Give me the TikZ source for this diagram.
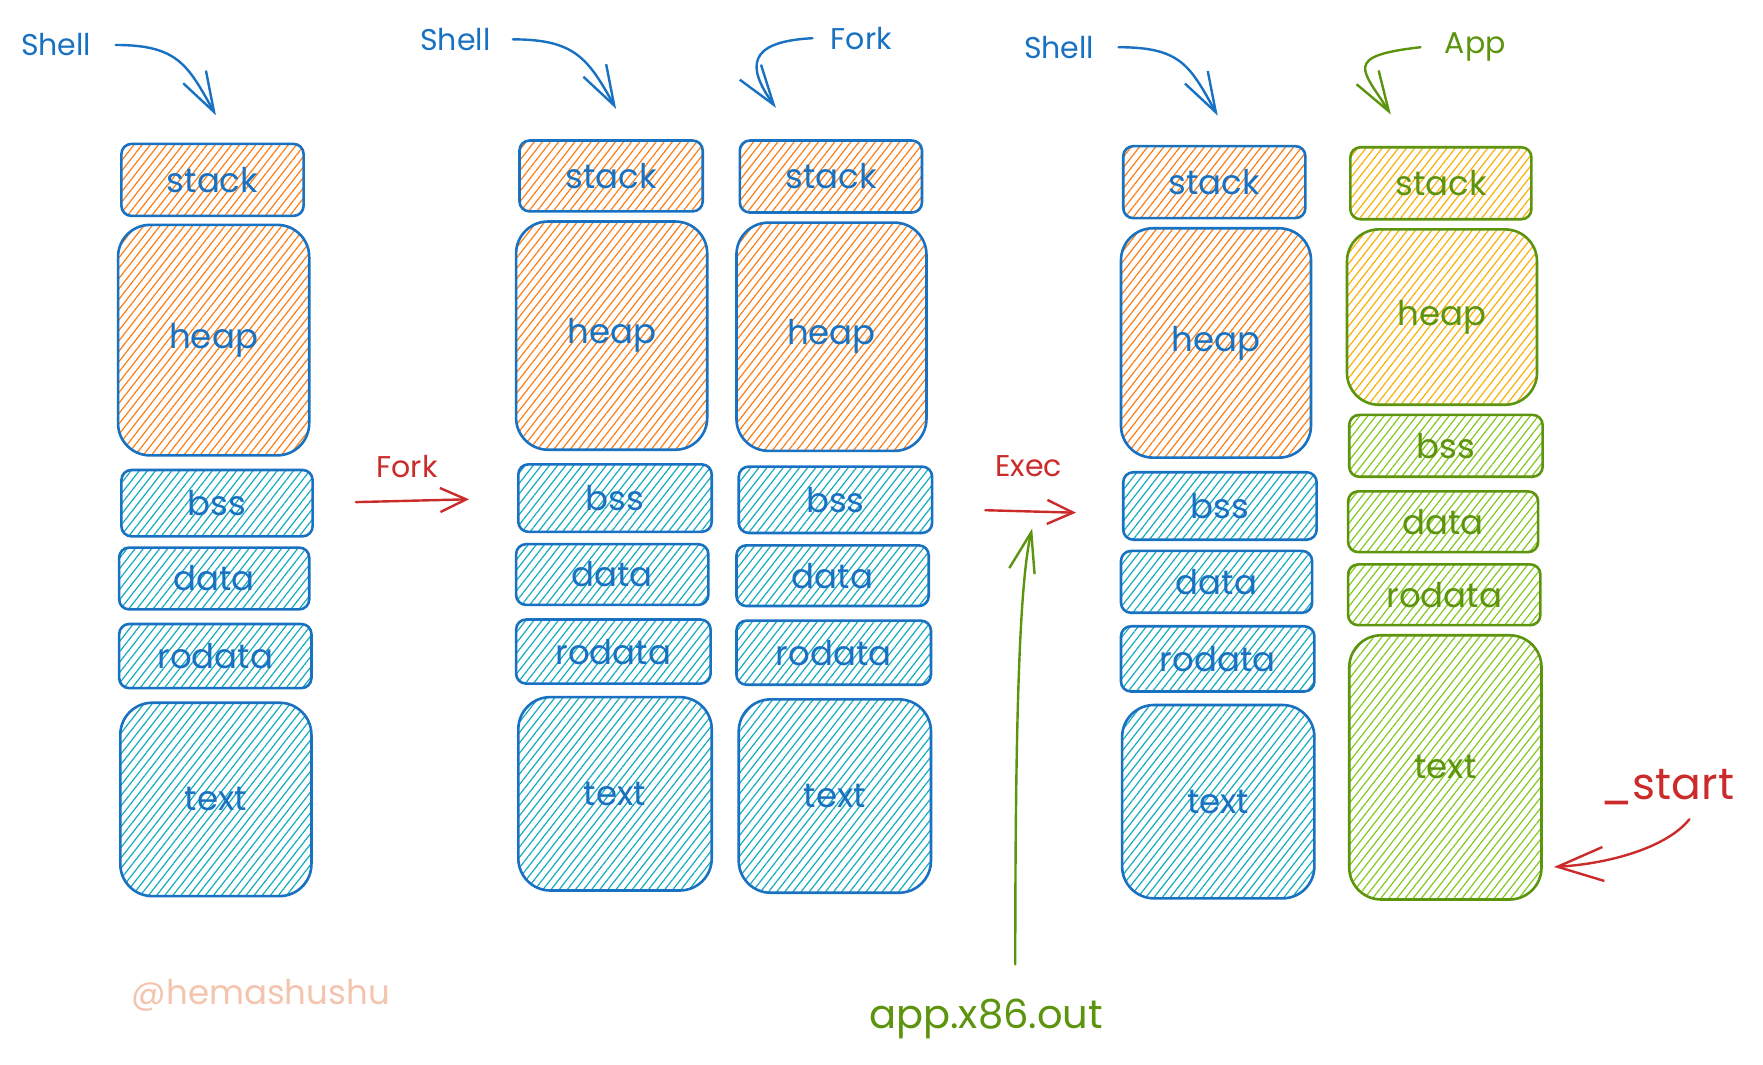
\documentclass[tikz,border=0pt]{standalone}
\usepackage{fontspec}
\setmainfont{Poppins}
\usetikzlibrary{patterns.meta,arrows.meta}
\definecolor{sblue}{HTML}{1971C2}
\definecolor{horange}{HTML}{FD7E14}
\definecolor{hcyan}{HTML}{15AABF}
\definecolor{sgreen}{HTML}{5C940D}
\definecolor{hgreen}{HTML}{82C91E}
\definecolor{hyellow}{HTML}{FAB005}
\definecolor{sred}{HTML}{CC2B2B}
\definecolor{wmark}{HTML}{F3C4AE}
\newcommand\U{0.5622pt}
\newcommand\mseg[7]{\node[#6,minimum width={(#4-#2)*\U},minimum height={(#5-#3)*\U}] (#1) at ({(#2+#4)/2},{(#3+#5)/2}) {#7};}
\tikzset{
  seg/.style={draw=sblue,line width=1.3pt,inner sep=0pt,text=sblue,font=\fontsize{17}{20}\selectfont,rounded corners=5pt},
  gseg/.style={seg,draw=sgreen,text=sgreen},
  big/.style={rounded corners=16pt},
  hatchlines/.style={pattern={Lines[angle=52,distance=3.2pt,line width=0.6pt]}},
  ohatch/.style={hatchlines,pattern color=horange},
  chatch/.style={hatchlines,pattern color=hcyan},
  yhatch/.style={hatchlines,pattern color=hyellow},
  ghatch/.style={hatchlines,pattern color=hgreen},
  lab/.style={font=\fontsize{15}{18}\selectfont,inner sep=1pt},
  barr/.style={line width=1.2pt,line cap=round,-{Straight Barb[length=20pt,width=13pt,line width=1.2pt]}},
  sarr/.style={line width=1.2pt,line cap=round,-{Straight Barb[length=13pt,width=12pt,line width=1.2pt]}},
}
\begin{document}
\begin{tikzpicture}[x=0.5622pt,y=-0.5622pt]
\useasboundingbox[fill=white] (0,0) rectangle (1568,947);
% column 1
\mseg{s1}{108}{128}{270}{192}{seg,ohatch}{stack}
\mseg{h1}{105}{200}{275}{405}{seg,big,ohatch}{heap}
\mseg{b1}{108}{418}{278}{477}{seg,chatch}{bss}
\mseg{d1}{106}{487}{275}{542}{seg,chatch}{data}
\mseg{r1}{106}{555}{277}{612}{seg,chatch}{rodata}
\mseg{t1}{107}{625}{277}{797}{seg,big,chatch}{text}
% column 2
\mseg{s2}{462}{125}{625}{188}{seg,ohatch}{stack}
\mseg{h2}{459}{197}{629}{400}{seg,big,ohatch}{heap}
\mseg{b2}{461}{413}{633}{473}{seg,chatch}{bss}
\mseg{d2}{459}{484}{630}{538}{seg,chatch}{data}
\mseg{r2}{459}{551}{632}{608}{seg,chatch}{rodata}
\mseg{t2}{461}{620}{633}{792}{seg,big,chatch}{text}
% column 3
\mseg{s3}{658}{125}{820}{189}{seg,ohatch}{stack}
\mseg{h3}{655}{198}{824}{401}{seg,big,ohatch}{heap}
\mseg{b3}{657}{415}{829}{474}{seg,chatch}{bss}
\mseg{d3}{655}{485}{826}{539}{seg,chatch}{data}
\mseg{r3}{655}{552}{828}{609}{seg,chatch}{rodata}
\mseg{t3}{657}{622}{828}{794}{seg,big,chatch}{text}
% column 4
\mseg{s4}{999}{130}{1161}{194}{seg,ohatch}{stack}
\mseg{h4}{997}{203}{1166}{407}{seg,big,ohatch}{heap}
\mseg{b4}{999}{420}{1171}{480}{seg,chatch}{bss}
\mseg{d4}{997}{490}{1167}{545}{seg,chatch}{data}
\mseg{r4}{997}{557}{1169}{615}{seg,chatch}{rodata}
\mseg{t4}{998}{627}{1169}{799}{seg,big,chatch}{text}
% column 5
\mseg{s5}{1201}{131}{1362}{195}{gseg,yhatch}{stack}
\mseg{h5}{1198}{204}{1367}{360}{gseg,big,yhatch}{heap}
\mseg{b5}{1200}{369}{1372}{424}{gseg,ghatch}{bss}
\mseg{d5}{1199}{437}{1368}{491}{gseg,ghatch}{data}
\mseg{r5}{1199}{502}{1370}{556}{gseg,ghatch}{rodata}
\mseg{t5}{1200}{565}{1371}{800}{gseg,big,ghatch}{text}
% labels
\node[lab,text=sblue] (sh1) at (50,40) {Shell};
\node[lab,text=sblue] (sh2) at (405,35) {Shell};
\node[lab,text=sblue] (fk3) at (766,34) {Fork};
\node[lab,text=sblue] (sh4) at (942,42) {Shell};
\node[lab,text=sgreen] (app) at (1312,42) {App};
\node[lab,text=sred] (fk1) at (362,415) {Fork};
\node[lab,text=sred] (ex) at (915,415) {Exec};
\node[inner sep=1pt,text=sgreen,font=\fontsize{20}{24}\selectfont] (ao) at (877,906) {app.x86.out};
\node[inner sep=1pt,text=sred,font=\fontsize{22}{26}\selectfont] (st) at (1483,700) {\_start};
\node[inner sep=1pt,text=wmark,font=\fontsize{17}{20}\selectfont] (wm) at (232,885) {@hemashushu};
\coordinate (eg) at (918,470);
% top arrows
\draw[barr,sblue] ([xshift=11pt]sh1.east) .. controls +(55,0) and +(-25,-45) .. ([xshift=1.7pt,yshift=14pt]s1.north);
\draw[barr,sblue] ([xshift=10pt]sh2.east) .. controls +(55,0) and +(-25,-45) .. ([xshift=2.5pt,yshift=15.2pt]s2.north);
\draw[barr,sblue] ([xshift=-8pt]fk3.west) .. controls +(-60,3) and +(-25,-35) .. ([xshift=-27.5pt,yshift=15.7pt]s3.north);
\draw[barr,sblue] ([xshift=11pt]sh4.east) .. controls +(55,0) and +(-25,-45) .. ([xshift=1.7pt,yshift=14.6pt]s4.north);
\draw[barr,sgreen] ([xshift=-11pt]app.west) .. controls +(-70,8) and +(-25,-40) .. ([xshift=-25pt,yshift=15.7pt]s5.north);
% middle arrows
\draw[sarr,sred,shorten <=21pt,shorten >=24pt] (b1.east) -- (b2.west);
\draw[sarr,sred,shorten <=26pt,shorten >=23pt] ([yshift=-4.5pt]b3.east) -- ([yshift=-4pt]b4.west);
\draw[barr,sgreen] ([xshift=14.6pt,yshift=16pt]ao.north) .. controls +(0,-200) and +(-12,50) .. (eg);
\draw[barr,sred,-{Straight Barb[length=23pt,width=17pt,line width=1.2pt]}] ([xshift=11pt,yshift=-6pt]st.south) .. controls +(-20,25) and +(50,-3) .. ([xshift=5.6pt,yshift=-49.8pt]t5.east);
\end{tikzpicture}
\end{document}
